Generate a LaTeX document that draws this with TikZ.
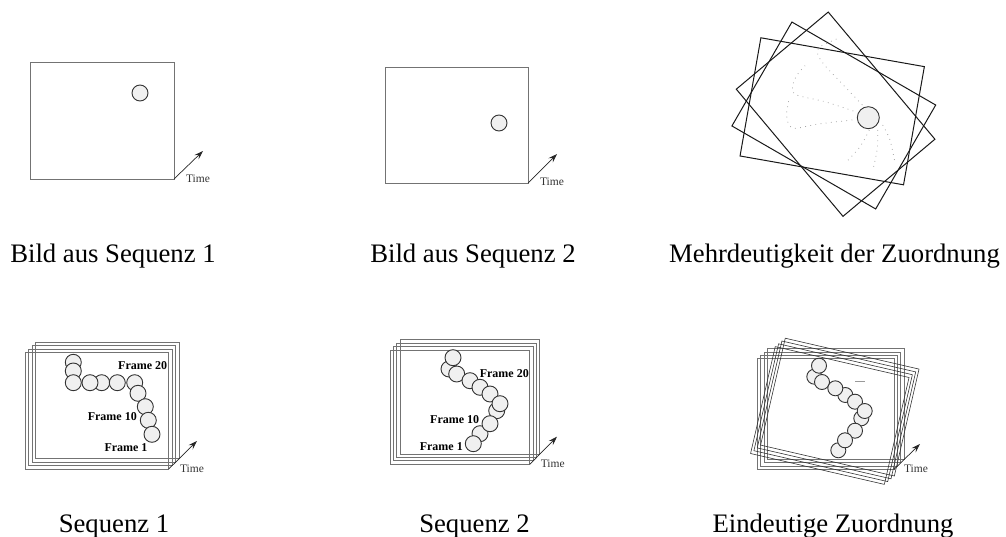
\documentclass[tikz,border=0pt]{standalone}
\usepackage{fontspec}
\setmainfont{Liberation Serif}
\usetikzlibrary{arrows.meta}

\begin{document}
\begin{tikzpicture}[
  x=1pt,y=-1pt,
  every node/.style={inner sep=0pt,outer sep=0pt},
  framebox/.style={draw=black!55,line width=0.9pt,rectangle},
  turnbox/.style={draw=black!80,line width=0.6pt,rectangle,minimum width=137.3pt,minimum height=109.7pt},
  guessbox/.style={draw=black!90,line width=1pt,rectangle,minimum width=166pt,minimum height=120pt},
  ball/.style={draw=black!80,line width=0.9pt,fill=black!6,circle,minimum size=16pt},
  trail/.style={black!35,line width=0.8pt,dash pattern=on 0.8pt off 4.4pt},
  timearrow/.style={-{Stealth[length=9pt,width=6pt,inset=3.5pt]},black!85,line width=0.7pt},
  timelabel/.style={font=\fontsize{11.5}{13}\selectfont,text=black!80},
  framelabel/.style={font=\fontsize{12}{14}\selectfont\bfseries},
  caption/.style={font=\fontsize{26.7}{30}\selectfont,anchor=base}
]
\useasboundingbox (0,0) rectangle (1006,537);

% top row
\node[framebox,minimum width=144pt,minimum height=117pt] (imga) at (102,120.5) {};
\node[ball] (balla) at (140,93) {};
\coordinate (tipa) at (203,151);
\draw[timearrow] (imga.south east) -- (tipa);
\node[timelabel] (timea) at (198,179) {Time};
\node[caption] (capa) at (113,262.5) {Bild aus Sequenz 1};

\node[framebox,minimum width=143pt,minimum height=116pt] (imgb) at (456.5,125) {};
\node[ball] (ballb) at (499,123) {};
\coordinate (tipb) at (557,154);
\draw[timearrow] (imgb.south east) -- (tipb);
\node[timelabel] (timeb) at (552,182) {Time};
\node[caption] (capb) at (473,262.5) {Bild aus Sequenz 2};

\foreach \n/\a/\cx/\cy in {1/-10/832.2/111.3,2/-30/833.8/115.5,3/-50/835.6/114.2}
  \node[guessbox,rotate=\a] (guess\n) at (\cx,\cy) {};
\foreach \n/\p in {
  1/{(862.3,105) (841.7,83.3) (825,65.7) (817.7,54.3) (820,46.7) (838.3,38.3)},
  2/{(853.3,111) (825,101.7) (795,94.3) (793.3,83.3) (798.3,73.3) (805,65.7)},
  3/{(852.3,120) (818.3,124) (795,128.3) (788.3,123.3) (786.7,113.3) (789,99)},
  4/{(869.3,130) (860,146.7) (846,162.3)},
  5/{(877.7,130) (877.3,148.3) (873.3,168.3)},
  6/{(882.7,125) (890,140) (895,163)}}
  \draw[trail] plot[smooth] coordinates {\p};
\node[ball,minimum size=22pt] (ballc) at (868.3,117.7) {};
\node[caption] (capc) at (834.5,262.5) {Mehrdeutigkeit der Zuordnung};

% bottom row
\foreach \i in {3,2,1,0}
  \node[framebox,minimum width=143.5pt,minimum height=116.5pt] (seqa\i) at (97+\i*3.4,410.7-\i*3.45) {};
\foreach \i/\cx/\cy in {1/73.3/362.3,2/73.3/371,3/73.3/382.7,4/101.7/382.7,5/90/382.7,6/117.3/382.7,
    7/134.7/382.7,8/138/393.3,9/145.3/406.7,10/148.3/420.3,11/152/434.3}
  \node[ball] (balla\i) at (\cx,\cy) {};
\node[framelabel] (labaa) at (142.7,365.3) {Frame 20};
\node[framelabel] (labab) at (112.3,417) {Frame 10};
\node[framelabel] (labac) at (126,447.7) {Frame 1};
\coordinate (tipd) at (197,441);
\draw[timearrow] (seqa0.south east) -- (tipd);
\node[timelabel] (timed) at (192,468.7) {Time};
\node[caption] (capd) at (114,532.5) {Sequenz 1};

\foreach \i in {3,2,1,0}
  \node[framebox,minimum width=139.5pt,minimum height=114.3pt] (seqb\i) at (460+\i*3.33,407.2-\i*3.45) {};
\foreach \i/\cx/\cy in {1/449/369,2/453/357.7,3/456.7/374,4/470/380.7,5/480/387.3,6/490/394,
    7/496.7/410.7,8/500/403.7,9/480/433.7,10/490/423.7,11/473.3/443.7}
  \node[ball] (ballb\i) at (\cx,\cy) {};
\node[framelabel] (labba) at (504.3,373.3) {Frame 20};
\node[framelabel] (labbb) at (454.7,420) {Frame 10};
\node[framelabel] (labbc) at (441.3,446.7) {Frame 1};
\coordinate (tipe) at (557,436.7);
\draw[timearrow] (seqb0.south east) -- (tipe);
\node[timelabel] (timee) at (552.7,463.7) {Time};
\node[caption] (cape) at (474.5,532.5) {Sequenz 2};

\foreach \i in {3,2,1,0}
  \node[framebox,line width=0.7pt,minimum width=136.7pt,minimum height=110.7pt] (seqc\i) at (825.7+\i*3.33,414-\i*3.33) {};
\foreach \i in {3,2,1,0}
  \node[turnbox,rotate=-13] (turnc\i) at (829.8+\i*3.33,415.5-\i*2.8) {};
\foreach \i/\cx/\cy in {1/814.3/376.7,2/819/365.7,3/822/382,4/845.3/395,5/835.3/388.3,6/855/401.7,
    7/861.3/418.3,8/864.7/411,9/855/430.7,10/838.3/450.3,11/845/440.3}
  \node[ball,minimum size=15pt] (ballc\i) at (\cx,\cy) {};
\draw[black!40,line width=0.6pt] (855,381.7) -- (865,381.7);
\coordinate (tipf) at (920,444);
\draw[timearrow] (seqc0.south east) -- (tipf);
\node[timelabel] (timef) at (916,469) {Time};
\node[caption] (capf) at (833,532.5) {Eindeutige Zuordnung};
\end{tikzpicture}
\end{document}
